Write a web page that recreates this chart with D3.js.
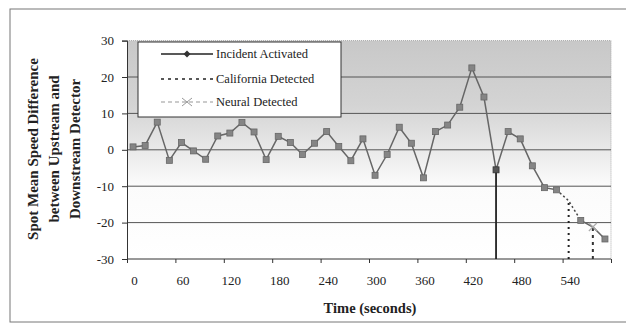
<!DOCTYPE html>
<html lang="en">
<head>
    <meta charset="UTF-8">
    <title>Spot Mean Speed Difference</title>
    <script src="https://d3js.org/d3.v7.min.js"></script>
    <style>
        body { margin: 0; background: #fff; }
    </style>
</head>
<body>
    <div id="chart"></div>

    <script>
        // data (15 s steps)
        const times = [0, 15, 30, 45, 60, 75, 90, 105, 120, 135, 150, 165, 180, 195, 210, 225,
                       240, 255, 270, 285, 300, 315, 330, 345, 360, 375, 390, 405, 420, 435,
                       450, 465, 480, 495, 510, 525, 540, 555, 570, 585];
        const speedDiff = [0.8, 1.2, 7.6, -2.9, 2.0, -0.3, -2.6, 3.8, 4.6, 7.5, 4.9, -2.7, 3.7, 2.0,
                           -1.3, 1.8, 5.0, 0.9, -3.0, 3.0, -7.0, -1.3, 6.2, 1.8, -7.7, 5.0, 6.8,
                           11.7, 22.5, 14.5, -5.5, 5.0, 3.0, -4.4, -10.4, -11.0, -14.0, -19.4,
                           -21.2, -24.5];
        const xLabels = [0, 60, 120, 180, 240, 300, 360, 420, 480, 540];
        const yTicks = [-30, -20, -10, 0, 10, 20, 30];
        const incidentTime = 450;
        const californiaTime = 540;
        const neuralTime = 570;
        const legendNames = ["Incident Activated", "California Detected", "Neural Detected"];

        const FONT = "'Liberation Serif', 'DejaVu Serif', serif";
        const W = 626, H = 324;
        const plot = {left: 127, right: 611, top: 40.6, bottom: 259};

        const svg = d3.select("#chart").append("svg")
            .attr("width", W).attr("height", H);

        // outer frame
        svg.append("rect")
            .attr("x", 10).attr("y", 9)
            .attr("width", 640).attr("height", 313)
            .attr("fill", "none")
            .attr("stroke", "#777")
            .attr("stroke-width", 1);

        // category style x axis: every point sits in the middle of its 15 s slot
        const x = d3.scaleLinear().domain([-7.5, 592.5]).range([plot.left, plot.right]);
        const y = d3.scaleLinear().domain([-30, 30]).range([plot.bottom, plot.top]);

        // plot area shading
        const grad = svg.append("defs").append("linearGradient")
            .attr("id", "bg").attr("x1", 0).attr("x2", 0).attr("y1", 0).attr("y2", 1);
        grad.append("stop").attr("offset", "0%").attr("stop-color", "#c8c8c8");
        grad.append("stop").attr("offset", "30%").attr("stop-color", "#d4d4d4");
        grad.append("stop").attr("offset", "50%").attr("stop-color", "#e9e9e9");
        grad.append("stop").attr("offset", "66%").attr("stop-color", "#fbfbfb");
        grad.append("stop").attr("offset", "100%").attr("stop-color", "#ffffff");

        svg.append("rect")
            .attr("x", plot.left).attr("y", plot.top)
            .attr("width", plot.right - plot.left).attr("height", plot.bottom - plot.top)
            .attr("fill", "url(#bg)");

        // plot border (top / right, dotted)
        svg.append("path")
            .attr("d", `M${plot.left},${plot.top}H${plot.right}V${plot.bottom}`)
            .attr("fill", "none")
            .attr("stroke", "#aaa")
            .attr("stroke-dasharray", "1,1");

        // gridlines
        svg.append("g")
            .selectAll("line")
            .data(yTicks.filter(d => d > -30 && d < 30))
            .join("line")
            .attr("x1", plot.left).attr("x2", plot.right)
            .attr("y1", d => y(d)).attr("y2", d => y(d))
            .attr("stroke", "#555")
            .attr("stroke-width", 1);

        // y axis
        const yAxis = svg.append("g")
            .attr("transform", `translate(${plot.left},0)`)
            .call(d3.axisLeft(y).tickValues(yTicks).tickSize(5).tickPadding(8));
        yAxis.select(".domain").attr("stroke", "#333");
        yAxis.selectAll(".tick line").attr("stroke", "#333");
        yAxis.selectAll("text").style("font-size", "13px").attr("fill", "#222")
            .text(d => d < 0 ? "-" + Math.abs(d) : d);

        // x axis: ticks at every 4th slot boundary, labels on the slots
        const tickPos = xLabels.map(d => d - 7.5).concat([592.5]);
        const xAxis = svg.append("g")
            .attr("transform", `translate(0,${plot.bottom})`)
            .call(d3.axisBottom(x).tickValues(tickPos).tickSize(4).tickFormat(""));
        xAxis.select(".domain").attr("stroke", "#333").attr("d", `M${plot.left},0H${plot.right}`);
        xAxis.selectAll(".tick line").attr("stroke", "#333");

        const xLab = svg.append("g")
            .attr("transform", `translate(1,${plot.bottom})`)
            .call(d3.axisBottom(x).tickValues(xLabels).tickSize(0).tickPadding(17));
        xLab.select(".domain").remove();
        xLab.selectAll("text").style("font-size", "13px").attr("fill", "#222");

        // axis titles
        svg.append("text")
            .attr("x", 370).attr("y", 313)
            .attr("text-anchor", "middle")
            .style("font-size", "14.5px").style("font-weight", "bold")
            .attr("fill", "#222")
            .text("Time (seconds)");

        const yTitle = ["Spot Mean Speed Difference", "between Upstream and", "Downstream Detector"];
        svg.append("g")
            .selectAll("text")
            .data(yTitle)
            .join("text")
            .attr("transform", (d, i) => `translate(${38 + i * 21},149) rotate(-90)`)
            .attr("text-anchor", "middle")
            .style("font-size", "15px").style("font-weight", "bold")
            .attr("fill", "#222")
            .text(d => d);

        const pts = times.map((t, i) => ({t: t, v: speedDiff[i]}));
        const iCal = times.indexOf(californiaTime);
        const line = d3.line().x(d => x(d.t)).y(d => y(d.v));

        // main series (solid) and the dotted bit round the California detection
        svg.append("path")
            .datum(pts.slice(0, iCal))
            .attr("d", line)
            .attr("fill", "none").attr("stroke", "#666").attr("stroke-width", 1.5);
        svg.append("path")
            .datum(pts.slice(iCal - 1, iCal + 2))
            .attr("d", line)
            .attr("fill", "none").attr("stroke", "#444").attr("stroke-width", 1.5)
            .attr("stroke-dasharray", "2,2.5");
        svg.append("path")
            .datum(pts.slice(iCal + 1))
            .attr("d", line)
            .attr("fill", "none").attr("stroke", "#666").attr("stroke-width", 1.5);

        // incident activated
        const vInc = speedDiff[times.indexOf(incidentTime)];
        svg.append("line")
            .attr("x1", x(incidentTime)).attr("x2", x(incidentTime))
            .attr("y1", y(-30)).attr("y2", y(vInc))
            .attr("stroke", "#222").attr("stroke-width", 1.8);

        // california detected
        svg.append("line")
            .attr("x1", x(californiaTime)).attr("x2", x(californiaTime))
            .attr("y1", y(-30)).attr("y2", y(speedDiff[iCal]))
            .attr("stroke", "#222").attr("stroke-width", 2)
            .attr("stroke-dasharray", "2,4");

        // neural detected
        const vNeu = speedDiff[times.indexOf(neuralTime)];
        svg.append("line")
            .attr("x1", x(neuralTime)).attr("x2", x(neuralTime))
            .attr("y1", y(-30)).attr("y2", y(vNeu))
            .attr("stroke", "#333").attr("stroke-width", 2)
            .attr("stroke-dasharray", "3,4");

        // square markers
        svg.append("g")
            .selectAll("rect")
            .data(pts.filter(d => d.t !== californiaTime && d.t !== neuralTime))
            .join("rect")
            .attr("x", d => x(d.t) - 3).attr("y", d => y(d.v) - 3)
            .attr("width", 6).attr("height", 6)
            .attr("fill", d => d.t === incidentTime ? "#555" : "#858585")
            .attr("stroke", d => d.t === incidentTime ? "#333" : "#666")
            .attr("stroke-width", 0.8);

        // neural X marker
        const xm = svg.append("g")
            .attr("transform", `translate(${x(neuralTime)},${y(vNeu)})`)
            .attr("stroke", "#aaa").attr("stroke-width", 1.2);
        xm.append("line").attr("x1", -4).attr("y1", -4).attr("x2", 4).attr("y2", 4);
        xm.append("line").attr("x1", -4).attr("y1", 4).attr("x2", 4).attr("y2", -4);

        // legend
        const lg = svg.append("g");
        lg.append("rect")
            .attr("x", 138).attr("y", 42).attr("width", 203).attr("height", 75)
            .attr("fill", "#fff").attr("stroke", "#333").attr("stroke-width", 1);

        const rowY = [54, 79, 102];
        const rows = lg.selectAll("g.row")
            .data(legendNames)
            .join("g")
            .attr("class", "row")
            .attr("transform", (d, i) => `translate(0,${rowY[i]})`);

        rows.append("line")
            .attr("x1", 161).attr("x2", 213).attr("y1", 0).attr("y2", 0)
            .attr("stroke", (d, i) => i === 2 ? "#bbb" : "#222")
            .attr("stroke-width", 1.5)
            .attr("stroke-dasharray", (d, i) => i === 0 ? null : (i === 1 ? "3,4" : "4,3"));

        rows.append("text")
            .attr("x", 216).attr("y", 4)
            .style("font-size", "12.5px")
            .attr("fill", "#222")
            .text(d => d);

        lg.append("path")
            .attr("d", "M187,50.5L190.5,54L187,57.5L183.5,54Z")
            .attr("fill", "#333");
        const lx = lg.append("g")
            .attr("transform", "translate(187,102)")
            .attr("stroke", "#999").attr("stroke-width", 1);
        lx.append("line").attr("x1", -5).attr("y1", -4).attr("x2", 5).attr("y2", 4);
        lx.append("line").attr("x1", -5).attr("y1", 4).attr("x2", 5).attr("y2", -4);

        // serif everywhere, like the original
        svg.selectAll("g").filter(function () { return this.hasAttribute("font-family"); })
            .attr("font-family", FONT);
        svg.selectAll("text").style("font-family", FONT);
    </script>
</body>
</html>
